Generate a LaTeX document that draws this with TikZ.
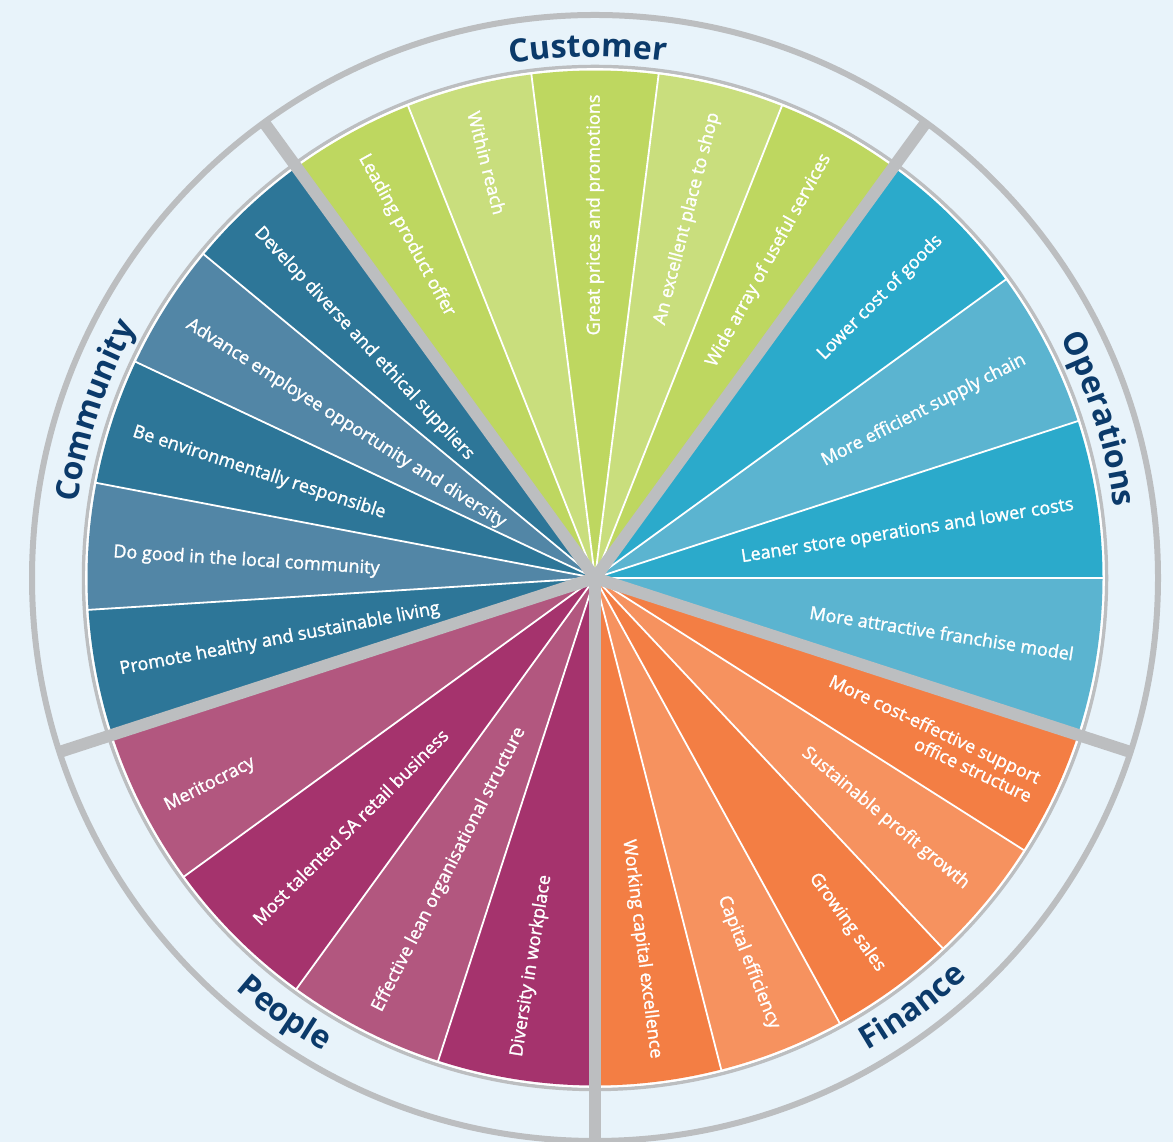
\documentclass[tikz,border=0pt]{standalone}
\usepackage{fontspec}
\setmainfont{Open Sans}
\newfontfamily\wfont{Open Sans}[FakeBold=1.6]
\usetikzlibrary{decorations.text}
\definecolor{bg}{HTML}{E8F3FA}
\definecolor{ring}{HTML}{BCBEC0}
\definecolor{navy}{HTML}{0B3A6A}
\definecolor{cusD}{HTML}{BED760}
\definecolor{cusL}{HTML}{C9DE7D}
\definecolor{opsD}{HTML}{2BAACB}
\definecolor{opsL}{HTML}{5BB4D0}
\definecolor{finD}{HTML}{F37E44}
\definecolor{finL}{HTML}{F6925F}
\definecolor{peoD}{HTML}{A5336D}
\definecolor{peoL}{HTML}{B2577F}
\definecolor{comD}{HTML}{2D7698}
\definecolor{comL}{HTML}{5286A6}
\newcommand{\wlabfont}{\wfont\fontsize{18}{20.5}\selectfont}
\newcommand{\catfont}{\fontsize{32}{32}\selectfont\bfseries}
\begin{document}
\begin{tikzpicture}[x=1pt,y=1pt,
  wlab/.style={text=white, font=\wlabfont, inner sep=0pt, anchor=center},
  sepline/.style={white, line width=1.8pt},
  spoke/.style={ring, line width=12pt},
  catpath/.style={decorate, decoration={text along path, text={|\catfont|#1}, text align=center, text color=navy}}
]
\fill[bg] (0,0) rectangle (1173,1142);
\useasboundingbox (0,0) rectangle (1173,1142);
\begin{scope}[shift={(595,564)}]
\coordinate (C) at (0,0);
\draw[ring, line width=6pt] (C) circle[radius=563];
\draw[ring, line width=3.5pt] (C) circle[radius=511.5];
\fill[white] (C) circle[radius=509.8];
% wedges
\foreach \a/\b/\c in {-18/0/opsL, 0/18/opsD, 18/36/opsL, 36/54/opsD,
  54/68.4/cusD, 68.4/82.8/cusL, 82.8/97.2/cusD, 97.2/111.6/cusL, 111.6/126/cusD,
  126/140.4/comD, 140.4/154.8/comL, 154.8/169.2/comD, 169.2/183.6/comL, 183.6/198/comD,
  198/216/peoL, 216/234/peoD, 234/252/peoL, 252/270/peoD,
  270/284.4/finD, 284.4/298.8/finL, 298.8/313.2/finD, 313.2/327.6/finL, 327.6/342/finD}{
  \fill[\c] (C) -- (\a:507.5) arc[start angle=\a, end angle=\b, radius=507.5] -- cycle;
}
\foreach \a in {-18,0,18,36,54,68.4,82.8,97.2,111.6,126,140.4,154.8,169.2,183.6,198,216,234,252,270,284.4,298.8,313.2,327.6}{
  \draw[sepline] (C) -- (\a:508);
}
\foreach \a in {54,126,198,270,342}{
  \draw[spoke] (C) -- (\a:563);
}
% wedge labels
\node[wlab, rotate=-61.2] (t1) at (118.8:391) {Leading product offer};
\node[wlab, rotate=-75.6] (t2) at (104.6:429) {Within reach};
\node[wlab, rotate=90] (t3) at (90:363) {Great prices and promotions};
\node[wlab, rotate=75.6] (t4) at (75.6:371) {An excellent place to shop};
\node[wlab, rotate=61.2] (t5) at (61.3:362) {Wide array of useful services};
\node[wlab, rotate=45] (t6) at (44.5:400) {Lower cost of goods};
\node[wlab, rotate=27] (t7) at (27:369) {More efficient supply chain};
\node[wlab, rotate=9] (t8) at (8.5:316) {Leaner store operations and lower costs};
\node[wlab, rotate=-9] (t9) at (-9:351) {More attractive franchise model};
\node[wlab, rotate=-25.2, align=right] (t10) at (-25.5:372) {More cost-effective support\\office structure};
\node[wlab, rotate=-39.6] (t11) at (-39.6:377) {Sustainable profit growth};
\node[wlab, rotate=-54] (t12) at (-53.8:427) {Growing sales};
\node[wlab, rotate=-68.4] (t13) at (-68.2:414) {Capital efficiency};
\node[wlab, rotate=-82.8] (t14) at (-82.8:374) {Working capital excellence};
\node[wlab, rotate=81] (t15) at (-99.3:393) {Diversity in workplace};
\node[wlab, rotate=63] (t16) at (-116.6:326) {Effective lean organisational structure};
\node[wlab, rotate=45] (t17) at (-134.5:349) {Most talented SA retail business};
\node[wlab, rotate=27] (t18) at (-151.8:437) {Meritocracy};
\node[wlab, rotate=10.8] (t19) at (191:321) {Promote healthy and sustainable living};
\node[wlab, rotate=-3.6] (t20) at (177.2:349) {Do good in the local community};
\node[wlab, rotate=-18] (t21) at (162.6:352) {Be environmentally responsible};
\node[wlab, rotate=-32.4] (t22) at (148.2:293) {Advance employee opportunity and diversity};
\node[wlab, rotate=-46.8] (t23) at (134.6:329) {Develop diverse and ethical suppliers};
% category labels
\path[catpath=Customer] (120.8:521) arc[start angle=120.8, end angle=60.8, radius=521];
\path[catpath=Operations] (47.5:524) arc[start angle=47.5, end angle=-12.5, radius=524];
\path[catpath=Community] (191.5:523) arc[start angle=191.5, end angle=131.5, radius=523];
\path[catpath=Finance] (-83.5:546) arc[start angle=-83.5, end angle=-23.5, radius=546];
\path[catpath=People] (-155.5:546) arc[start angle=-155.5, end angle=-95.5, radius=546];
\end{scope}
\end{tikzpicture}
\end{document}
